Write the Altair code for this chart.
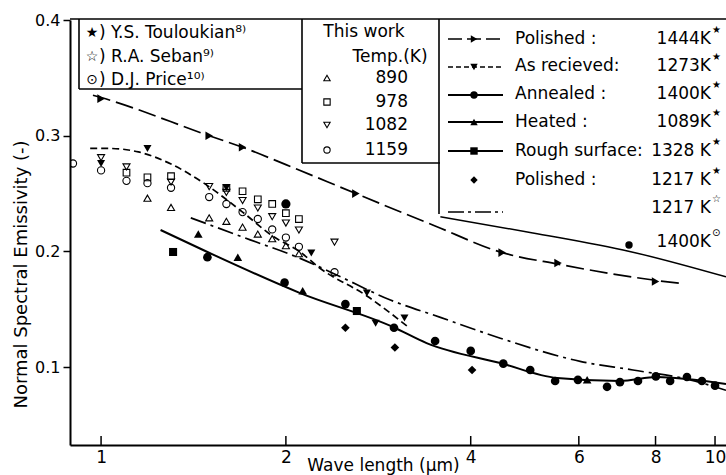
import altair as alt
import pandas as pd

FONT = "DejaVu Sans"

# ---------------- data (wave length in um, normal spectral emissivity) ----------------
# Y.S. Touloukian, polished 1444 K (long dash, right triangles)
pol1444_line_wl = [0.97, 1.0, 1.5, 1.7, 2.0, 2.6, 3.5, 4.5, 5.55, 8.0, 8.9]
pol1444_line_eps = [0.335, 0.333, 0.300, 0.290, 0.275, 0.250, 0.222, 0.199, 0.189, 0.175, 0.172]
pol1444_pts_wl = [1.0, 1.5, 1.7, 2.6, 4.5, 5.55, 8.0]
pol1444_pts_eps = [0.332, 0.300, 0.290, 0.250, 0.199, 0.190, 0.174]

# as received 1273 K (short dash, down triangles)
asrec_line_wl = [0.96, 1.03, 1.15, 1.3, 1.47, 1.7, 1.9, 2.11, 2.27, 2.71, 3.15]
asrec_line_eps = [0.289, 0.289, 0.286, 0.2755, 0.259, 0.234, 0.2135, 0.1995, 0.1857, 0.1615, 0.1355]
asrec_pts_wl = [1.0, 1.19, 1.6, 2.2, 2.71, 2.8, 3.12]
asrec_pts_eps = [0.276, 0.289, 0.255, 0.1986, 0.164, 0.138, 0.1424]

# annealed 1400 K (solid, circles)
anneal_line_wl = [1.25, 1.49, 2.11, 2.99, 3.39, 4.47, 5.53, 7.0, 8.05, 9.0, 10.42]
anneal_line_eps = [0.2185, 0.1995, 0.164, 0.1347, 0.1208, 0.1035, 0.0906, 0.088, 0.0914, 0.0897, 0.0854]
anneal_pts_wl = [1.49, 1.99, 2.5, 3.0, 3.5, 4.0, 4.52, 5.0, 5.49, 5.98, 6.67, 7.0, 7.49, 8.01, 8.45, 9.0, 9.52, 10.0]
anneal_pts_eps = [0.195, 0.173, 0.1545, 0.134, 0.1226, 0.114, 0.103, 0.0975, 0.088, 0.089, 0.083, 0.087,
                  0.088, 0.092, 0.088, 0.0915, 0.088, 0.084]

# heated 1089 K, rough surface 1328 K, polished 1217 K
heated_wl = [1.44, 1.67, 2.13, 6.19]
heated_eps = [0.215, 0.195, 0.166, 0.089]
rough_wl = [1.31, 2.61]
rough_eps = [0.1995, 0.1485]
pol1217_wl = [2.5, 3.01, 4.02]
pol1217_eps = [0.134, 0.117, 0.0975]

# R.A. Seban 1217 K (dash-dot)
seban_wl = [1.40, 1.75, 2.11, 2.39, 2.96, 3.57, 4.47, 6.03, 7.35, 9.11, 10.42]
seban_eps = [0.229, 0.210, 0.194, 0.181, 0.158, 0.143, 0.125, 0.105, 0.0975, 0.089, 0.080]

# D.J. Price 1400 K
price_line_wl = [3.57, 5.05, 7.26, 10.42]
price_line_eps = [0.230, 0.216, 0.200, 0.178]
price_pt_wl = [2.0]
price_pt_eps = [0.241]

# this work
t890_wl = [1.19, 1.3, 1.5, 1.6, 1.7, 1.8, 1.9, 2.0, 2.1]
t890_eps = [0.246, 0.238, 0.229, 0.226, 0.221, 0.215, 0.211, 0.205, 0.198]
t978_wl = [1.1, 1.19, 1.3, 1.6, 1.7, 1.8, 1.9, 2.0, 2.1]
t978_eps = [0.268, 0.264, 0.265, 0.255, 0.252, 0.245, 0.241, 0.233, 0.228]
t1082_wl = [1.0, 1.1, 1.3, 1.5, 1.6, 1.7, 1.8, 1.9, 2.0, 2.1, 2.4]
t1082_eps = [0.281, 0.273, 0.260, 0.256, 0.251, 0.244, 0.2375, 0.230, 0.2245, 0.2185, 0.208]
t1159_wl = [0.9, 1.0, 1.1, 1.19, 1.3, 1.5, 1.6, 1.7, 1.8, 1.9, 2.0, 2.1, 2.4]
t1159_eps = [0.276, 0.270, 0.261, 0.259, 0.255, 0.247, 0.241, 0.234, 0.228, 0.219, 0.212, 0.204, 0.182]

x_ticks = [1, 2, 4, 6, 8, 10]
y_ticks = [0.1, 0.2, 0.3, 0.4]

# ---------------- scales and axes ----------------
W, H = 656, 425
xs = alt.Scale(type="log", domain=[0.89, 10.42], nice=False)
ys = alt.Scale(domain=[0.0327, 0.4], nice=False, zero=False)

AX_X = alt.Axis(
    values=x_ticks, format="~g", title="Wave length  (μm)", ticks=False, tickSize=0,
    labelPadding=4, labelFont=FONT, labelFontSize=17, labelColor="black", labelFlush=False,
    titleFont=FONT, titleFontSize=17, titleFontWeight="normal", titleColor="black",
    titleX=313, titleY=29, titleAlign="center", titleBaseline="bottom",
    domainColor="black", domainWidth=2, grid=False)
AX_Y = alt.Axis(
    values=y_ticks, format=".1f", title="Normal Spectral Emissivity (-)",
    tickSize=7, tickWidth=1.5, tickColor="black", labelPadding=3,
    labelFont=FONT, labelFontSize=16, labelColor="black", labelFlush=False,
    titleFont=FONT, titleFontSize=18, titleFontWeight="normal", titleColor="black",
    titleAngle=-90, titleX=-44, titleY=254, titleAlign="center", titleBaseline="alphabetic",
    domainColor="black", domainWidth=2, grid=False)


def frame(wl, eps):
    return pd.DataFrame({"wl": wl, "eps": eps})


def enc_xy():
    return dict(x=alt.X("wl:Q", scale=xs, axis=AX_X), y=alt.Y("eps:Q", scale=ys, axis=AX_Y))


def line_layer(wl, eps, dash=None, width=1.7):
    kw = dict(color="black", strokeWidth=width, interpolate="monotone", clip=True)
    if dash:
        kw["strokeDash"] = dash
    return alt.Chart(frame(wl, eps)).mark_line(**kw).encode(**enc_xy())


def point_layer(wl, eps, shape, filled=True, size=60):
    kw = dict(shape=shape, filled=filled, color="black", size=size, opacity=1, clip=True)
    kw["strokeWidth"] = 0 if filled else 1.1
    return alt.Chart(frame(wl, eps)).mark_point(**kw).encode(**enc_xy())


# inward ticks on the wave length axis
inner_ticks = alt.Chart(frame(x_ticks, [0.2] * len(x_ticks))).mark_rule(color="black", strokeWidth=1.5).encode(
    x=alt.X("wl:Q", scale=xs, axis=AX_X), y=alt.value(H), y2=alt.value(H - 9))

data_layers = [
    line_layer(pol1444_line_wl, pol1444_line_eps, dash=[18, 6]),
    point_layer(pol1444_pts_wl, pol1444_pts_eps, "triangle-right", size=75),
    line_layer(asrec_line_wl, asrec_line_eps, dash=[7, 4]),
    point_layer(asrec_pts_wl, asrec_pts_eps, "triangle-down", size=65),
    line_layer(anneal_line_wl, anneal_line_eps, width=2),
    point_layer(anneal_pts_wl, anneal_pts_eps, "circle", size=75),
    point_layer(heated_wl, heated_eps, "triangle-up", size=75),
    point_layer(rough_wl, rough_eps, "square", size=65),
    point_layer(pol1217_wl, pol1217_eps, "diamond", size=75),
    line_layer(seban_wl, seban_eps, dash=[16, 5, 3, 5]),
    line_layer(price_line_wl, price_line_eps, width=1.5),
    point_layer(price_pt_wl, price_pt_eps, "circle", size=85),
    point_layer(t890_wl, t890_eps, "triangle-up", filled=False, size=50),
    point_layer(t978_wl, t978_eps, "square", filled=False, size=44),
    point_layer(t1082_wl, t1082_eps, "triangle-down", filled=False, size=50),
    point_layer(t1159_wl, t1159_eps, "circle", filled=False, size=52),
]

# ---------------- legend panels (pixel positions inside the plot area) ----------------
def px(df):
    return alt.Chart(df)


def pxy(xf="x", yf="y"):
    return dict(x=alt.X(f"{xf}:Q", scale=None, axis=None), y=alt.Y(f"{yf}:Q", scale=None, axis=None))


box_segments = pd.DataFrame({
    "x": [0, 9, 9, 232, 232, 369],
    "y": [-1, -1, 69, -1, 143, -1],
    "x2": [W, 9, 232, 232, 370, 369],
    "y2": [-1, 69, 69, 143, 143, 194],
})
boxes = px(box_segments).mark_rule(color="black", strokeWidth=1.6).encode(
    **pxy(), x2="x2:Q", y2="y2:Q")


def texts(xv, yv, labels, align="left", size=17):
    df = pd.DataFrame({"x": xv, "y": yv, "t": labels})
    return px(df).mark_text(align=align, baseline="middle", font=FONT, fontSize=size,
                            color="black").encode(**pxy(), text="t:N")


# literature sources
src_symbols = texts([22, 22, 22], [13, 37, 60], ["★", "☆", "⊙"], align="center", size=14)
src_names = texts([29, 29, 29], [13, 37, 60],
                  [") Y.S. Touloukian⁸⁾", ") R.A. Seban⁹⁾", ") D.J.  Price¹⁰⁾"], size=17)

# this work
tw_head = texts([294, 320], [12, 37], ["This  work", "Temp.(K)"], align="center", size=17)
tw_vals = texts([338] * 4, [58, 82, 105, 130], ["890", "978", "1082", "1159"], align="right", size=17)
tw_marks = px(pd.DataFrame({"x": [257] * 4, "y": [58, 82, 105, 130],
                            "s": ["triangle-up", "square", "triangle-down", "circle"]})).mark_point(
    filled=False, color="black", size=40, strokeWidth=1.1, opacity=1).encode(
    **pxy(), shape=alt.Shape("s:N", scale=None))

# surface conditions
row_y = [19, 46, 74, 102, 131, 160, 188, 222]
cond_names = texts([445] * 6, row_y[:6],
                   ["Polished :", "As recieved:", "Annealed :", "Heated :", "Rough surface:", "Polished :"])
cond_temps = texts([641] * 8, row_y,
                   ["1444K", "1273K", "1400K", "1089K", "1328 K", "1217 K", "1217 K", "1400K"], align="right")
cond_refs = texts([642] * 8, [v - 9 for v in row_y], ["★"] * 6 + ["☆", "⊙"], size=10)


def sample(yv, dash=None, width=1.6):
    kw = dict(color="black", strokeWidth=width)
    if dash:
        kw["strokeDash"] = dash
    return px(pd.DataFrame({"x": [378], "x2": [433], "y": [yv]})).mark_rule(**kw).encode(
        **pxy(), x2="x2:Q")


samples = [
    sample(19, [14, 5]),
    sample(47, [5, 3]),
    sample(75, width=2),
    sample(102, width=2),
    sample(131, width=2),
    sample(192, [16, 4, 3, 4]),
]
cond_marks = px(pd.DataFrame({
    "x": [404, 404, 404, 404, 404, 404, 559],
    "y": [19, 47, 75, 102, 131, 160, 225],
    "s": ["triangle-right", "triangle-down", "circle", "triangle-up", "square", "diamond", "circle"],
})).mark_point(filled=True, color="black", size=55, strokeWidth=0, opacity=1).encode(
    **pxy(), shape=alt.Shape("s:N", scale=None))

chart = alt.layer(
    inner_ticks, *data_layers,
    boxes, src_symbols, src_names, tw_head, tw_vals, tw_marks,
    *samples, cond_marks, cond_names, cond_temps, cond_refs,
).properties(
    width=W, height=H,
    autosize=alt.AutoSizeParams(type="none"),
    padding={"left": 70, "top": 20, "right": 0, "bottom": 30},
    background="white",
).configure_view(stroke=None)

chart.save("out.html", embed_options={"renderer": "svg", "actions": False})
